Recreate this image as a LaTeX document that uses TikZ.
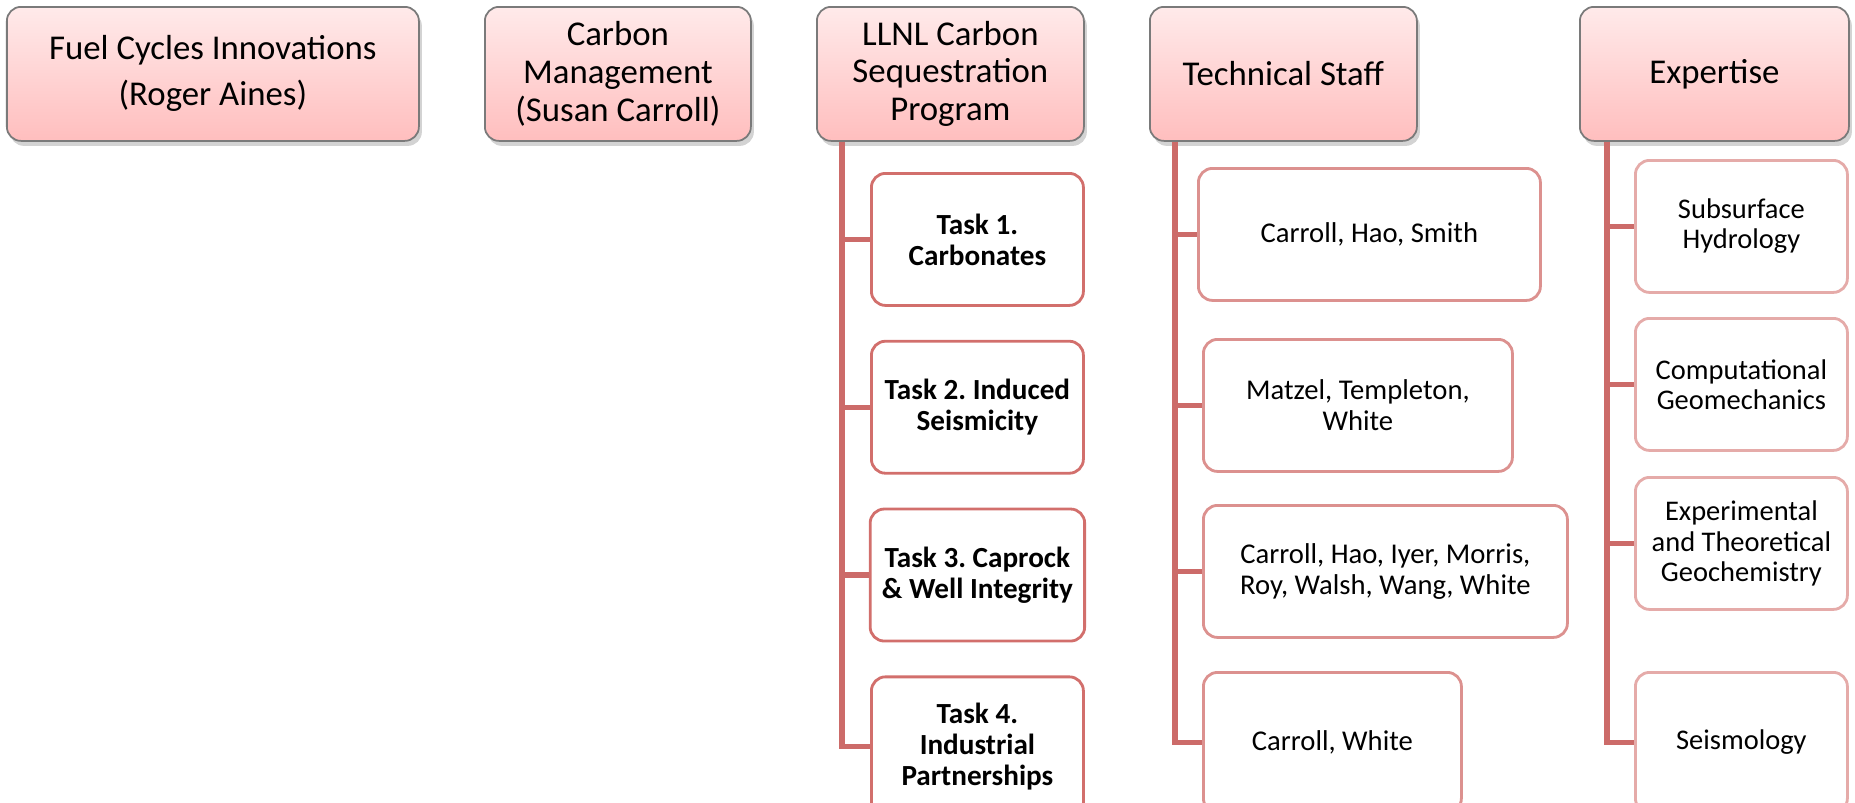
\documentclass[tikz,border=0pt]{standalone}
\usepackage{fontspec}
\setmainfont{Carlito}
\usepackage{tikz}
\usetikzlibrary{positioning,shadows}
\definecolor{pink1}{HTML}{FFEAEA}
\definecolor{pink2}{HTML}{FFBEBE}
\definecolor{gray1}{HTML}{7A7A7A}
\definecolor{red1}{HTML}{CC6B69}
\definecolor{red2}{HTML}{D26F6C}
\definecolor{red3}{HTML}{DC918F}
\definecolor{red4}{HTML}{E5ABA9}
\frenchspacing

\begin{document}
\begin{tikzpicture}[
    head/.style={draw=gray1, line width=0.5pt, rounded corners=4pt,
                 top color=pink1, bottom color=pink2,
                 minimum width=2.67cm, minimum height=1.34cm,
                 anchor=north west, align=center,
                 font=\fontsize{9.9}{10.7}\selectfont,
                 drop shadow={shadow xshift=0.03cm, shadow yshift=-0.05cm,
                              opacity=0.35}},
    box/.style={draw, fill=white, line width=0.8pt, rounded corners=4pt,
                minimum height=1.32cm, anchor=north west, align=center},
    task/.style={box, draw=red2, minimum width=2.12cm,
                 font=\bfseries\fontsize{8.3}{8.8}\selectfont},
    crew/.style={box, draw=red3, font=\fontsize{8.15}{8.8}\selectfont},
    expt/.style={box, draw=red4, minimum width=2.12cm, inner sep=2pt,
                 font=\fontsize{8.1}{8.6}\selectfont},
    link/.style={draw=red1, line width=1.5pt},
]
\clip (0,0) rectangle (18.55,-8.02);

% ── Top row ──
\node[head, minimum width=4.12cm] (fuel) at (0.06,-0.06)
    {Fuel Cycles Innovations\\[2.4pt](Roger Aines)};
\node[head, minimum width=2.66cm] (carbon) at (4.84,-0.06)
    {Carbon\\Management\\(Susan Carroll)};
\node[head] (llnl) at (8.16,-0.06)
    {LLNL Carbon\\Sequestration\\Program};
\node[head] (staff) at (11.49,-0.06) {Technical Staff};
\node[head, minimum width=2.69cm] (expert) at (15.79,-0.06) {Expertise};

% ── Tasks ──
\node[task] (task1) at (8.70,-1.72) {Task 1.\\Carbonates};
\node[task, below=0.33cm of task1] (task2) {Task 2. Induced\\Seismicity};
\node[task, below=0.33cm of task2] (task3) {Task 3. Caprock\\\& Well Integrity};
\node[task, below=0.33cm of task3, minimum height=1.4cm]
    (task4) {Task 4.\\Industrial\\Partnerships};

% ── Staff ──
\node[crew, minimum width=3.42cm] (crew1) at (11.97,-1.67)
    {Carroll, Hao, Smith};
\node[crew, minimum width=3.09cm] (crew2) at (12.02,-3.38)
    {Matzel, Templeton,\\White};
\node[crew, minimum width=3.64cm] (crew3) at (12.02,-5.04)
    {Carroll, Hao, Iyer, Morris,\\Roy, Walsh, Wang, White};
\node[crew, minimum width=2.58cm, minimum height=1.4cm] (crew4) at (12.02,-6.71)
    {Carroll, White};

% ── Expertise ──
\node[expt] (expt1) at (16.34,-1.59) {Subsurface\\Hydrology};
\node[expt] (expt2) at (16.34,-3.17) {Computational\\Geomechanics};
\node[expt] (expt3) at (16.34,-4.76)
    {Experimental\\and Theoretical\\Geochemistry};
\node[expt, minimum height=1.4cm] (expt4) at (16.34,-6.71) {Seismology};

% ── Connectors ──
\coordinate (ltrunk) at ([xshift=0.26cm]llnl.south west);
\coordinate (strunk) at ([xshift=0.26cm]staff.south west);
\coordinate (etrunk) at ([xshift=0.28cm]expert.south west);
\foreach \t in {task1,task2,task3,task4}
    \draw[link] (ltrunk) |- (\t.west);
\foreach \t in {crew1,crew2,crew3,crew4}
    \draw[link] (strunk) |- (\t.west);
\foreach \t in {expt1,expt2,expt3,expt4}
    \draw[link] (etrunk) |- (\t.west);

\end{tikzpicture}
\end{document}
